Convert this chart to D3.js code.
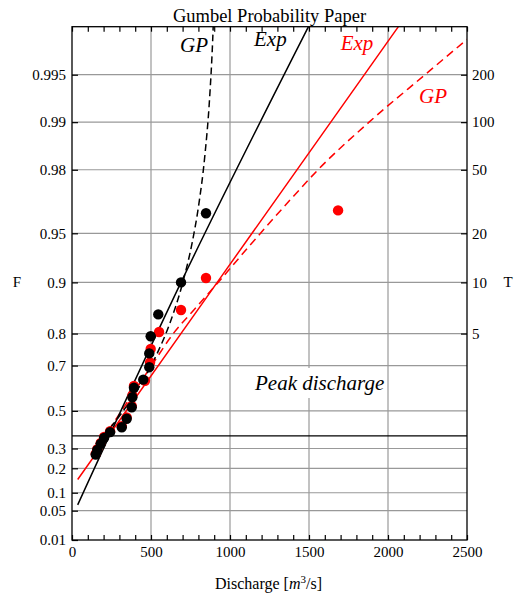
<!DOCTYPE html>
<html><head><meta charset="utf-8">
<script src="https://cdn.jsdelivr.net/npm/d3@7"></script>
<style>body{margin:0;background:#fff} text{font-family:"Liberation Serif","Times New Roman",serif}</style>
</head><body><svg id="c" width="518" height="597"></svg>
<script>
// ---- data ----
const fTicks = [0.01,0.05,0.1,0.2,0.3,0.5,0.7,0.8,0.9,0.95,0.98,0.99,0.995];
const fTickLabels = ["0.01","0.05","0.1","0.2","0.3","0.5","0.7","0.8","0.9","0.95","0.98","0.99","0.995"];
const tTicks = [5,10,20,50,100,200];
const xTicks = [0,500,1000,1500,2000,2500];

// observed annual peaks (black) and series with the extra large flood (red)
const blackQ = [848,690,546,498,489,489,451,392,382,378,346,315,241,203,182,160,150];
const blackF = [0.9625,0.9,0.845,0.793,0.742,0.694,0.645,0.610,0.567,0.518,0.459,0.414,0.388,0.357,0.325,0.293,0.268];
const redQ = [1684,848,690,551,498,494,462,392,382,378,346,315,241,203,182,160,150];
const redF = [0.964,0.906,0.854,0.804,0.756,0.711,0.640,0.618,0.575,0.525,0.466,0.420,0.393,0.362,0.330,0.297,0.272];

// fitted curves
const expBlackQ = [36,690,1496];
const expBlackF = [0.064,0.9,0.99752];
const gpBlackQ = [150,250,350,462,540,620,700,760,802,840,870,890,900];
const gpBlackF = [0.324,0.420,0.529,0.655,0.743,0.826,0.899,0.9425,0.9667,0.9834,0.99273,0.99692,0.99837];
const expRedQ = [36,919,2065];
const expRedF = [0.15,0.9,0.99752];
const gpRedQ = [140,330,504,641,774,925,1122,1380,1557,1880,2234,2500];
const gpRedF = [0.28,0.52,0.70,0.80,0.855,0.90,0.94,0.969,0.98,0.99,0.995,0.99702];

// ---- drawing ----
const svg = d3.select("#c");
const L=72, R=467, T=26.7, B=540;
const gumbel = F => -Math.log(-Math.log(F));
const x = d3.scaleLinear().domain([0,2500]).range([L,R]);
const y = d3.scaleLinear().domain([gumbel(0.01), 6.0]).range([B,T]);
const yF = F => y(gumbel(F));

svg.append("defs").append("clipPath").attr("id","clip")
  .append("rect").attr("x",L).attr("y",T).attr("width",R-L).attr("height",B-T);

// grid
const grid = svg.append("g").attr("stroke","#999").attr("stroke-width",1.2);
fTicks.slice(1).forEach(f=>{
  grid.append("line").attr("x1",L).attr("x2",R).attr("y1",yF(f)).attr("y2",yF(f));
});
xTicks.slice(1,-1).forEach(v=>{
  grid.append("line").attr("x1",x(v)).attr("x2",x(v)).attr("y1",T).attr("y2",B);
});
// reduced variate zero line
svg.append("line").attr("x1",L).attr("x2",R).attr("y1",y(0)).attr("y2",y(0))
  .attr("stroke","#000").attr("stroke-width",1.2);

// label box
const lbl = svg.append("g");
lbl.append("rect").attr("x",252).attr("y",368).attr("width",134).attr("height",30).attr("fill","#fff");
lbl.append("text").attr("x",255).attr("y",390).attr("font-size",21).attr("font-style","italic").text("Peak discharge");

// curves
const plot = svg.append("g").attr("clip-path","url(#clip)");
const line = d3.line().x(d=>x(d[0])).y(d=>yF(d[1])).curve(d3.curveMonotoneX);
function curve(Q,F,color,dash){
  plot.append("path").datum(Q.map((q,i)=>[q,F[i]])).attr("d",line)
    .attr("fill","none").attr("stroke",color).attr("stroke-width",1.5)
    .attr("stroke-dasharray",dash||null);
}
curve(expRedQ,expRedF,"#ff0000");
curve(gpRedQ,gpRedF,"#ff0000","8,5");
curve(expBlackQ,expBlackF,"#000");
curve(gpBlackQ,gpBlackF,"#000","7,4");

// points
plot.append("g").selectAll("circle").data(redQ.map((q,i)=>[q,redF[i]])).join("circle")
  .attr("cx",d=>x(d[0])).attr("cy",d=>yF(d[1])).attr("r",5.2).attr("fill","#ff0000");
plot.append("g").selectAll("circle").data(blackQ.map((q,i)=>[q,blackF[i]])).join("circle")
  .attr("cx",d=>x(d[0])).attr("cy",d=>yF(d[1])).attr("r",5.2).attr("fill","#000");

// frame
svg.append("rect").attr("x",L).attr("y",T).attr("width",R-L).attr("height",B-T)
  .attr("fill","none").attr("stroke","#000").attr("stroke-width",1.3);

// axes
const fs = 15;
const xb = svg.append("g").attr("transform",`translate(0,${B})`)
  .call(d3.axisBottom(x).tickValues(d3.range(0,2501,100)).tickSizeInner(-5).tickSizeOuter(0).tickPadding(6)
    .tickFormat(d=> xTicks.includes(d) ? String(d) : ""));
const xt = svg.append("g").attr("transform",`translate(0,${T})`)
  .call(d3.axisTop(x).tickValues(d3.range(0,2501,100)).tickSizeInner(-5).tickSizeOuter(0).tickFormat(""));
const yl = svg.append("g").attr("transform",`translate(${L},0)`)
  .call(d3.axisLeft(y).tickValues(fTicks.map(gumbel)).tickSizeInner(-6).tickSizeOuter(0).tickPadding(6)
    .tickFormat((d,i)=>fTickLabels[i]));
const yr = svg.append("g").attr("transform",`translate(${R},0)`)
  .call(d3.axisRight(y).tickValues(tTicks.map(t=>gumbel(1-1/t))).tickSizeInner(-6).tickSizeOuter(0).tickPadding(5)
    .tickFormat((d,i)=>String(tTicks[i])));
[xb,xt,yl,yr].forEach(g=>{
  g.select(".domain").remove();
  g.selectAll("line").attr("stroke","#000").attr("stroke-width",1.2);
  g.selectAll("text").attr("font-size",fs).attr("fill","#000")
   .attr("font-family","'Liberation Serif','Times New Roman',serif");
});

// titles
svg.append("text").attr("x",269.5).attr("y",22).attr("text-anchor","middle").attr("font-size",18.5).text("Gumbel Probability Paper");
svg.append("text").attr("x",17).attr("y",287).attr("text-anchor","middle").attr("font-size",15).text("F");
svg.append("text").attr("x",508).attr("y",287).attr("text-anchor","middle").attr("font-size",15).text("T");
const xtitle = svg.append("text").attr("x",268.5).attr("y",589).attr("text-anchor","middle").attr("font-size",16);
xtitle.append("tspan").text("Discharge [");
xtitle.append("tspan").attr("font-style","italic").text("m");
xtitle.append("tspan").attr("font-size",11).attr("dy",-6).text("3");
xtitle.append("tspan").attr("dy",6).text("/s]");

// curve labels
const it = (tx,ty,s,c)=>svg.append("text").attr("x",tx).attr("y",ty).attr("font-size",21)
  .attr("font-style","italic").attr("fill",c).text(s);
it(180,51.7,"GP","#000");
it(254,46,"Exp","#000");
it(340.7,50,"Exp","#ff0000");
it(419,103.3,"GP","#ff0000");
</script></body></html>
